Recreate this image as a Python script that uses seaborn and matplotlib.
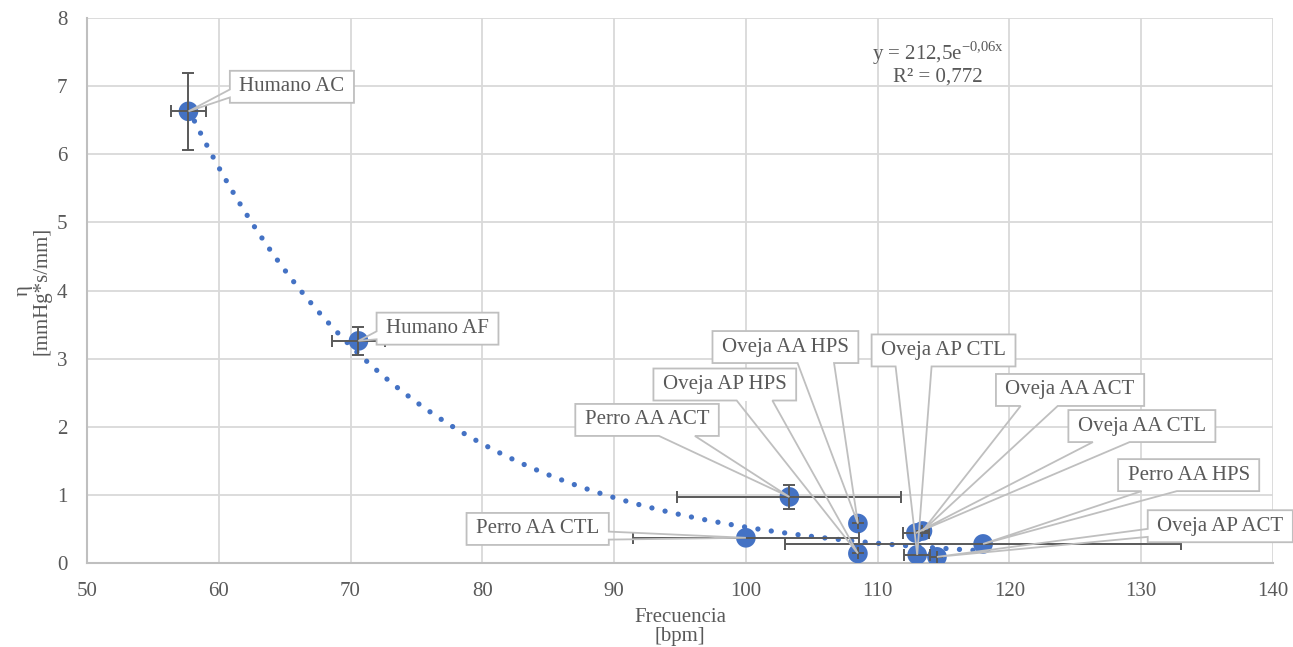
import matplotlib
matplotlib.use("Agg")
import matplotlib.pyplot as plt
from matplotlib.patches import Polygon, Rectangle
import numpy as np
import pandas as pd
import seaborn as sns

# data
labels = ["Humano AC", "Humano AF", "Perro AA ACT", "Perro AA CTL", "Perro AA HPS",
          "Oveja AA ACT", "Oveja AA CTL", "Oveja AA HPS", "Oveja AP ACT", "Oveja AP CTL", "Oveja AP HPS"]
frecuencia = [57.7, 70.6, 103.3, 100.0, 118.0, 113.4, 112.9, 108.5, 114.5, 113.0, 108.5]
eta = [6.63, 3.26, 0.97, 0.37, 0.28, 0.47, 0.44, 0.58, 0.09, 0.12, 0.14]
frecuencia_err = [1.3, 2.0, 8.5, 8.6, 15.0, 0.0, 1.0, 0.0, 0.0, 1.0, 0.0]
eta_err = [0.57, 0.21, 0.18, 0.0, 0.0, 0.0, 0.0, 0.0, 0.0, 0.0, 0.0]

# exponential trendline shown on the chart: y = 212,5 e^(-0,06x), R² = 0,772
trend_a = 212.5
trend_b = -0.06
trend_r2 = 0.772

x_ticks = list(range(50, 141, 10))
y_ticks = list(range(0, 9))

# callout box centres (data coordinates)
label_pos = {
    "Humano AC": (65.55, 6.99),
    "Humano AF": (76.6, 3.44),
    "Perro AA ACT": (92.5, 2.10),
    "Perro AA CTL": (84.2, 0.50),
    "Perro AA HPS": (133.6, 1.29),
    "Oveja AA ACT": (124.6, 2.54),
    "Oveja AA CTL": (130.05, 2.01),
    "Oveja AA HPS": (103.0, 3.17),
    "Oveja AP ACT": (136.0, 0.54),
    "Oveja AP CTL": (115.0, 3.12),
    "Oveja AP HPS": (98.4, 2.62),
}

df = pd.DataFrame({"label": labels, "frecuencia": frecuencia, "eta": eta,
                   "frecuencia_err": frecuencia_err, "eta_err": eta_err})

sns.set_theme(style="whitegrid")
plt.rcParams["font.family"] = ["Liberation Serif", "DejaVu Serif"]
plt.rcParams["mathtext.fontset"] = "custom"
plt.rcParams["mathtext.rm"] = "Liberation Serif"

BLUE = "#4472C4"
TEXT = "#595959"
GRID = "#D9D9D9"
BOX = "#BFBFBF"


def callout_outline(x0, y0, x1, y1, tip):
    """Rectangle + wedge outline (display coords), like an Excel wedgeRectCallout."""
    w, h = x1 - x0, y1 - y0
    cx, cy = (x0 + x1) / 2, (y0 + y1) / 2
    dx, dy = tip[0] - cx, tip[1] - cy
    # corners clockwise from top-left (display y points up)
    tl, tr, br, bl = (x0, y1), (x1, y1), (x1, y0), (x0, y0)
    if abs(dy) * w > abs(dx) * h:
        f = (7 / 12, 10 / 12) if dx > 0 else (2 / 12, 5 / 12)
        if dy < 0:  # bottom edge, walking right -> left
            a, b = (x0 + w * f[1], y0), (x0 + w * f[0], y0)
            return [tl, tr, br, a, tip, b, bl]
        a, b = (x0 + w * f[0], y1), (x0 + w * f[1], y1)
        return [tl, a, tip, b, tr, br, bl]
    f = (7 / 12, 10 / 12) if dy < 0 else (2 / 12, 5 / 12)
    if dx < 0:  # left edge, walking bottom -> top
        a, b = (x0, y1 - h * f[1]), (x0, y1 - h * f[0])
        return [tl, tr, br, bl, a, tip, b]
    a, b = (x1, y1 - h * f[0]), (x1, y1 - h * f[1])
    return [tl, tr, a, tip, b, br, bl]


fig = plt.figure(figsize=(12.93, 6.47), dpi=100)
ax = fig.add_axes([87 / 1293, 1 - 563 / 647, (1273 - 87) / 1293, (563 - 18) / 647])

# trendline
xs = np.linspace(df["frecuencia"].min(), df["frecuencia"].max(), 300)
ax.plot(xs, trend_a * np.exp(trend_b * xs), color=BLUE, lw=3.8,
        linestyle=(0, (0.01, 2.55)), dash_capstyle="round", zorder=2)

sns.scatterplot(data=df, x="frecuencia", y="eta", ax=ax, s=200, color=BLUE,
                edgecolor="none", linewidth=0, zorder=3, legend=False)

ax.errorbar(df["frecuencia"], df["eta"], xerr=df["frecuencia_err"], yerr=df["eta_err"],
            fmt="none", ecolor=TEXT, elinewidth=1.4, capsize=4.5, capthick=1.4, zorder=4)

ax.set_xlim(50, 140)
ax.set_ylim(0, 8)

texts = []
for i, name in enumerate(df["label"]):
    tx, ty = label_pos[name]
    t = ax.text(tx, ty, name, ha="center", va="center", fontsize=15, color=TEXT,
                zorder=10 + i * 0.1 + 0.05)
    texts.append(t)

fig.canvas.draw()
renderer = fig.canvas.get_renderer()
to_data = ax.transData.inverted()
for i, (t, x, y) in enumerate(zip(texts, df["frecuencia"], df["eta"])):
    bb = t.get_window_extent(renderer)
    x0, x1 = bb.x0 - 9.5, bb.x1 + 9.5
    yc = (bb.y0 + bb.y1) / 2
    y0, y1 = yc - 16, yc + 16
    tip = tuple(ax.transData.transform((x, y)))
    pts = to_data.transform(callout_outline(x0, y0, x1, y1, tip))
    r0 = to_data.transform((x0, y0))
    r1 = to_data.transform((x1, y1))
    ax.add_patch(Rectangle(r0, r1[0] - r0[0], r1[1] - r0[1], fc="white", ec="none",
                           zorder=10 + i * 0.1, clip_on=False))
    ax.add_patch(Polygon(pts, closed=True, fc="none", ec=BOX, lw=1.3,
                         zorder=10 + i * 0.1 + 0.02, clip_on=False, joinstyle="miter"))

ax.text(114.6, 7.34,
        "y = 212,5e$^{\\mathregular{-0{,}06x}}$\nR² = " + f"{trend_r2:.3f}".replace(".", ","),
        ha="center", va="center", fontsize=15, color=TEXT, linespacing=1.05, zorder=5)

ax.set_xticks(x_ticks)
ax.set_yticks(y_ticks)
ax.grid(True, color=GRID, lw=1.3)
ax.set_axisbelow(True)
ax.tick_params(axis="both", length=0, labelsize=15, labelcolor=TEXT)
ax.tick_params(axis="x", pad=14)
ax.tick_params(axis="y", pad=14)
for side in ["top", "right"]:
    ax.spines[side].set_visible(False)
for side in ["left", "bottom"]:
    ax.spines[side].set_color(BOX)
    ax.spines[side].set_linewidth(1.5)

ax.set_xlabel("Frecuencia\n[bpm]", fontsize=15, color=TEXT, labelpad=5, linespacing=1.0)
ax.set_ylabel("η\n[mmHg*s/mm]", fontsize=15, color=TEXT, labelpad=4, linespacing=1.0)

fig.savefig("out.png", dpi=100)
plt.close(fig)
